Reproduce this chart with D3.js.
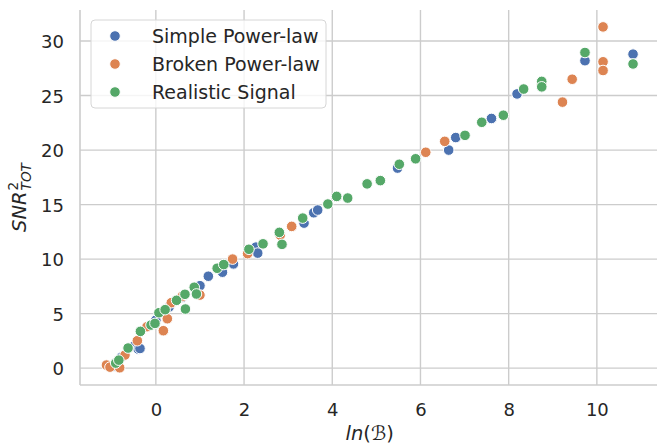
<!DOCTYPE html>
<html>
<head>
<meta charset="utf-8">
<script src="https://cdn.jsdelivr.net/npm/d3@7"></script>
<style>
  body { margin: 0; background: #fff; }
  text { font-family: "DejaVu Sans", sans-serif; fill: #262626; }
</style>
</head>
<body>
<div id="chart"></div>
<script>
// ln(B) vs SNR^2_TOT
const simpleX = [-0.95, -0.78, -0.5, -0.40, -0.36, 0.0, 0.3, 0.6, 1.0, 1.19, 1.51, 1.76, 2.27, 2.31, 3.36, 3.58, 3.67, 5.48, 6.64, 6.80, 7.61, 8.19, 8.75, 9.73, 10.82];
const simpleY = [0.2, 1.0, 2.0, 1.75, 1.8, 4.4, 5.6, 6.5, 7.56, 8.43, 8.8, 9.56, 11.1, 10.55, 13.3, 14.25, 14.5, 18.35, 20.0, 21.15, 22.9, 25.15, 25.8, 28.2, 28.8];

const brokenX = [-1.12, -1.04, -0.82, -0.7, -0.42, -0.2, 0.17, 0.26, 0.35, 0.6, 1.0, 1.74, 2.08, 2.82, 3.08, 6.12, 6.55, 8.75, 9.22, 9.44, 10.14, 10.14, 10.14];
const brokenY = [0.28, 0.09, 0.03, 1.2, 2.51, 3.8, 3.43, 4.53, 6.0, 6.6, 6.7, 10.0, 10.5, 12.2, 13.0, 19.8, 20.8, 26.0, 24.4, 26.5, 31.3, 28.1, 27.3];

const realX = [-0.91, -0.84, -0.63, -0.35, -0.11, -0.02, 0.07, 0.21, 0.47, 0.66, 0.67, 0.87, 0.92, 1.39, 1.54, 2.11, 2.43, 2.80, 2.86, 3.33, 3.90, 4.10, 4.35, 4.79, 5.09, 5.52, 5.89, 7.01, 7.39, 7.88, 8.34, 8.75, 8.75, 9.73, 10.82];
const realY = [0.46, 0.73, 1.84, 3.37, 3.95, 4.1, 5.08, 5.36, 6.22, 6.77, 5.42, 7.42, 6.8, 9.16, 9.5, 10.9, 11.4, 12.45, 11.35, 13.76, 15.05, 15.75, 15.6, 16.9, 17.2, 18.7, 19.2, 21.35, 22.55, 23.2, 25.6, 26.3, 25.8, 28.95, 27.9];

const seriesNames = ["Simple Power-law", "Broken Power-law", "Realistic Signal"];
const seriesColors = ["#4C72B0", "#DD8452", "#55A868"];
const xTicks = [0, 2, 4, 6, 8, 10];
const yTicks = [0, 5, 10, 15, 20, 25, 30];

const W = 657, H = 445;
const svg = d3.select("#chart").append("svg")
    .attr("width", W)
    .attr("height", H);

const x = d3.scaleLinear().domain([-1.72, 11.42]).range([80, 659.5]);
const y = d3.scaleLinear().domain([-1.55, 32.85]).range([385, 10]);

// grid
svg.append("g").selectAll("line").data(xTicks).enter().append("line")
    .attr("x1", d => x(d)).attr("x2", d => x(d))
    .attr("y1", y.range()[0]).attr("y2", y.range()[1])
    .attr("stroke", "#cccccc").attr("stroke-width", 1.4);
svg.append("g").selectAll("line").data(yTicks).enter().append("line")
    .attr("x1", x.range()[0]).attr("x2", x.range()[1])
    .attr("y1", d => y(d)).attr("y2", d => y(d))
    .attr("stroke", "#cccccc").attr("stroke-width", 1.4);

// axes (only labels, no tick marks)
const xAxis = svg.append("g")
    .attr("transform", `translate(0,${y.range()[0]})`)
    .call(d3.axisBottom(x).tickValues(xTicks).tickSize(0).tickPadding(0));
xAxis.select(".domain").remove();
xAxis.selectAll("text").attr("y", 31).attr("dy", null)
    .style("font-size", "18px").attr("fill", "#262626");

const yAxis = svg.append("g")
    .attr("transform", `translate(${x.range()[0]},0)`)
    .call(d3.axisLeft(y).tickValues(yTicks).tickSize(0).tickPadding(16));
yAxis.select(".domain").remove();
yAxis.selectAll("text").attr("dy", "0.36em")
    .style("font-size", "18px").attr("fill", "#262626");

// spines left + bottom
svg.append("line")
    .attr("x1", x.range()[0]).attr("x2", x.range()[0])
    .attr("y1", y.range()[0]).attr("y2", y.range()[1])
    .attr("stroke", "#cccccc").attr("stroke-width", 1.6);
svg.append("line")
    .attr("x1", x.range()[0]).attr("x2", x.range()[1])
    .attr("y1", y.range()[0]).attr("y2", y.range()[0])
    .attr("stroke", "#cccccc").attr("stroke-width", 1.6);

// points
const allSeries = [
  d3.zip(simpleX, simpleY),
  d3.zip(brokenX, brokenY),
  d3.zip(realX, realY)
];
allSeries.forEach((pts, i) => {
  svg.append("g").selectAll("circle").data(pts).enter().append("circle")
    .attr("cx", d => x(d[0]))
    .attr("cy", d => y(d[1]))
    .attr("r", 5.3)
    .attr("fill", seriesColors[i])
    .attr("stroke", "#fff")
    .attr("stroke-width", 1);
});

// legend
const leg = svg.append("g");
leg.append("rect")
    .attr("x", 91).attr("y", 20).attr("width", 235).attr("height", 88)
    .attr("rx", 4).attr("fill", "#fff").attr("fill-opacity", 0.8)
    .attr("stroke", "#d6d6d6").attr("stroke-width", 1);
seriesNames.forEach((name, i) => {
  const ly = 36 + i * 28;
  leg.append("circle")
    .attr("cx", 115).attr("cy", ly).attr("r", 5.3)
    .attr("fill", seriesColors[i]).attr("stroke", "#fff").attr("stroke-width", 1);
  leg.append("text")
    .attr("x", 152).attr("y", ly).attr("dy", "0.36em")
    .style("font-size", "19px")
    .text(name);
});

// x label: ln(B)
const xl = svg.append("text")
    .attr("x", (x.range()[0] + x.range()[1]) / 2)
    .attr("y", 440)
    .attr("text-anchor", "middle")
    .style("font-size", "19.5px");
xl.append("tspan").style("font-style", "italic").text("ln");
xl.append("tspan").text("(");
xl.append("tspan").style("font-style", "italic").text("\u212C");
xl.append("tspan").text(")");

// y label: SNR^2_TOT
const yg = svg.append("g")
    .attr("transform", `translate(26,${(y.range()[0] + y.range()[1]) / 2}) rotate(-90)`);
const main = yg.append("text").style("font-size", "19.5px").style("font-style", "italic").text("SNR");
const sup = yg.append("text").style("font-size", "13.6px").text("2");
const sub = yg.append("text").style("font-size", "13.6px").style("font-style", "italic").text("TOT");
const mw = main.node().getComputedTextLength();
const sw = Math.max(sup.node().getComputedTextLength(), sub.node().getComputedTextLength());
const start = -(mw + 1 + sw) / 2;
main.attr("x", start).attr("y", 0);
sup.attr("x", start + mw + 1).attr("y", -8);
sub.attr("x", start + mw + 1).attr("y", 4.5);
</script>
</body>
</html>
